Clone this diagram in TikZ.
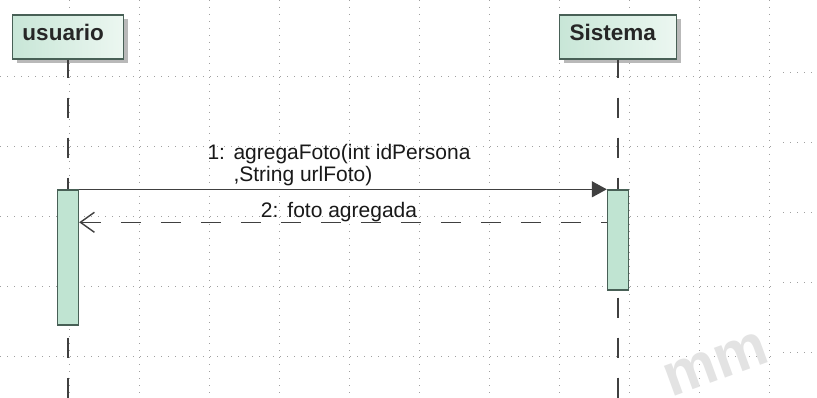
\documentclass[tikz,border=0pt]{standalone}
\usepackage{fontspec}
\setmainfont{Liberation Sans}
\usetikzlibrary{arrows.meta,shadows}

\definecolor{boxfillA}{RGB}{200,230,215}
\definecolor{boxfillB}{RGB}{236,247,241}
\definecolor{actfill}{RGB}{192,228,210}
\definecolor{boxedge}{RGB}{72,96,86}
\definecolor{lineclr}{RGB}{64,64,64}
\definecolor{gridclr}{RGB}{160,160,160}

\begin{document}
\begin{tikzpicture}[x=1pt, y=-1pt,
    actor/.style={draw=boxedge, line width=1.4pt, left color=boxfillA, right color=boxfillB,
      general shadow={fill=gray!55, shadow xshift=4pt, shadow yshift=-4pt},
      font=\fontsize{22.5}{24}\selectfont\bfseries, text=black!85, align=left,
      inner xsep=10pt, minimum height=44pt, text height=14pt, text depth=6pt},
    activation/.style={draw=boxedge, line width=1.4pt, fill=actfill, minimum width=21pt, inner sep=0pt},
    lifeline/.style={lineclr, line width=1.6pt, dash pattern=on 20pt off 20pt, dash phase=2pt},
    gridline/.style={gridclr, line width=0.9pt, dash pattern=on 1pt off 6pt},
    msg/.style={lineclr, line width=1.4pt},
    msglabel/.style={font=\fontsize{21}{22}\selectfont, text=black!90, inner sep=0pt, align=left},
    watermark/.style={font=\fontsize{60}{60}\selectfont\bfseries, text=gray!22, rotate=20, inner sep=0pt}]

    \useasboundingbox (0,0) rectangle (817,398);
    \fill[white] (0,0) rectangle (817,398);

    % Grid
    \foreach \gx in {69,139,...,769}
        \draw[gridline] (\gx,0) -- (\gx,398);
    \foreach \gy in {76,146,216,286,356}
        \draw[gridline] (0,\gy) -- (775,\gy) (783,\gy-4) -- (817,\gy-4);

    % Watermark
    \node[watermark] (wm) at (716,364) {mm};

    % Objects
    \node[actor, text width=91pt] (usr) at (68,37) {usuario};
    \node[actor, text width=97pt] (sis) at (618,37) {Sistema};

    % Lifelines
    \coordinate (usrEnd) at (68,398);
    \coordinate (sisEnd) at (618,398);
    \draw[lifeline] (usr.south) -- (usrEnd);
    \draw[lifeline] (sis.south) -- (sisEnd);

    % Activations
    \node[activation, minimum height=135pt] (usrAct) at (68,257.5) {};
    \node[activation, minimum height=100pt] (sisAct) at (618,240) {};

    % Messages
    \draw[msg, -{Triangle[length=15pt,width=16pt]}] (usrAct.north east) -- (sisAct.north west)
        node[msglabel, midway, above=3pt, xshift=-4pt] (m1)
        {1:\hspace{8.5pt}agregaFoto(int idPersona\\\hspace*{26pt},String urlFoto)};
    \draw[msg, dash pattern=on 20pt off 20pt, {Straight Barb[length=14pt,width=20pt]}-]
        ([yshift=-33pt]usrAct.north east) -- ([yshift=-33pt]sisAct.north west)
        node[msglabel, midway, above=0pt, xshift=-4pt] (m2) {2:\hspace{9pt}foto agregada};
\end{tikzpicture}
\end{document}
